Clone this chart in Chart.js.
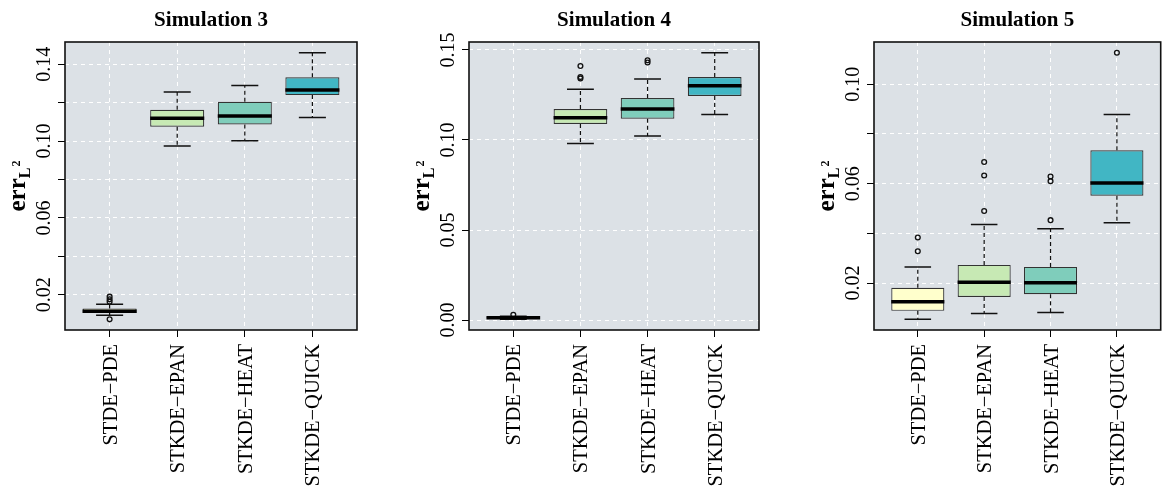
<!DOCTYPE html>
<html lang="en">
<head>
<meta charset="UTF-8">
<title>Simulation boxplots</title>
<style>
  html, body { margin: 0; padding: 0; background: #fff; overflow: hidden; }
  #wrap { position: relative; width: 1162px; height: 492px; overflow: hidden; }
  canvas { position: absolute; top: 0; }
</style>
</head>
<body>
<div id="wrap">
  <canvas id="sim3" width="387" height="492" style="left:0px"></canvas>
  <canvas id="sim4" width="387" height="492" style="left:387px"></canvas>
  <canvas id="sim5" width="392" height="492" style="left:774px"></canvas>
</div>
<script src="https://cdn.jsdelivr.net/npm/chart.js@4.4.1/dist/chart.umd.min.js"></script>
<script>
const categories = ['STDE\u2212PDE', 'STKDE\u2212EPAN', 'STKDE\u2212HEAT', 'STKDE\u2212QUICK'];
const boxColors = ['#ffffcc', '#c7e9b4', '#7fcdbb', '#41b6c4'];

// Simulation 3
const sim3Low    = [0.0093, 0.0974, 0.1002, 0.1123];
const sim3Q1     = [0.0105, 0.1074, 0.1086, 0.1239];
const sim3Median = [0.0114, 0.1119, 0.1130, 0.1266];
const sim3Q3     = [0.0129, 0.1163, 0.1204, 0.1332];
const sim3High   = [0.0151, 0.1255, 0.1289, 0.1460];
const sim3Outliers = [[0.0072, 0.0164, 0.0176, 0.0190], [], [], []];
const sim3Ticks = [0.02, 0.04, 0.06, 0.08, 0.10, 0.12, 0.14];
const sim3TickLabels = ['0.02', '0.06', '0.10', '0.14'];

// Simulation 4
const sim4Low    = [0.0005, 0.0980, 0.1022, 0.1142];
const sim4Q1     = [0.0010, 0.1089, 0.1118, 0.1244];
const sim4Median = [0.0013, 0.1124, 0.1172, 0.1301];
const sim4Q3     = [0.0016, 0.1172, 0.1233, 0.1349];
const sim4High   = [0.0022, 0.1282, 0.1339, 0.1485];
const sim4Outliers = [[0.0029], [0.1342, 0.1349, 0.1411], [0.1430, 0.1443], []];
const sim4Ticks = [0.00, 0.05, 0.10, 0.15];
const sim4TickLabels = ['0.00', '0.05', '0.10', '0.15'];

// Simulation 5
const sim5Low    = [0.0054, 0.0077, 0.0081, 0.0443];
const sim5Q1     = [0.0088, 0.0144, 0.0155, 0.0551];
const sim5Median = [0.0125, 0.0203, 0.0201, 0.0603];
const sim5Q3     = [0.0181, 0.0273, 0.0265, 0.0734];
const sim5High   = [0.0265, 0.0436, 0.0418, 0.0878];
const sim5Outliers = [[0.0328, 0.0383], [0.0490, 0.0633, 0.0687], [0.0453, 0.0610, 0.0629], [0.1127]];
const sim5Ticks = [0.02, 0.04, 0.06, 0.08, 0.10];
const sim5TickLabels = ['0.02', '0.06', '0.10'];

const SERIF = '"Liberation Serif", "Times New Roman", serif';

// draws background, whiskers, medians, frame and all the R-style text
const boxExtras = {
  id: 'boxExtras',
  beforeDraw(chart) {
    const a = chart.chartArea, ctx = chart.ctx;
    ctx.save();
    ctx.fillStyle = '#dce1e6';
    ctx.fillRect(a.left, a.top, a.right - a.left, a.bottom - a.top);
    ctx.restore();
  },
  afterDatasetsDraw(chart) {
    const b = chart.options.plugins.boxExtras;
    const ctx = chart.ctx, ys = chart.scales.y;
    const meta = chart.getDatasetMeta(0);
    ctx.save();
    meta.data.forEach((el, i) => {
      const x = el.x, w = el.width;
      const yLo = ys.getPixelForValue(b.low[i]);
      const yQ1 = ys.getPixelForValue(b.q1[i]);
      const yQ3 = ys.getPixelForValue(b.q3[i]);
      const yHi = ys.getPixelForValue(b.high[i]);
      const yMed = ys.getPixelForValue(b.median[i]);
      // dashed whiskers
      ctx.strokeStyle = '#111';
      ctx.lineWidth = 1.2;
      ctx.setLineDash([4, 3]);
      ctx.beginPath();
      ctx.moveTo(x, yQ3); ctx.lineTo(x, yHi);
      ctx.moveTo(x, yQ1); ctx.lineTo(x, yLo);
      ctx.stroke();
      // caps
      ctx.setLineDash([]);
      ctx.lineWidth = 1.5;
      ctx.beginPath();
      ctx.moveTo(x - w / 4, yHi); ctx.lineTo(x + w / 4, yHi);
      ctx.moveTo(x - w / 4, yLo); ctx.lineTo(x + w / 4, yLo);
      ctx.stroke();
      // median
      ctx.strokeStyle = '#000';
      ctx.lineWidth = 3.5;
      ctx.beginPath();
      ctx.moveTo(x - w / 2, yMed); ctx.lineTo(x + w / 2, yMed);
      ctx.stroke();
    });
    ctx.restore();
  },
  afterDraw(chart) {
    const b = chart.options.plugins.boxExtras;
    const a = chart.chartArea, ctx = chart.ctx;
    const xs = chart.scales.x, ys = chart.scales.y;
    ctx.save();
    // frame
    ctx.strokeStyle = '#111';
    ctx.lineWidth = 1.6;
    ctx.strokeRect(a.left, a.top, a.right - a.left, a.bottom - a.top);

    ctx.fillStyle = '#000';
    // title
    ctx.font = 'bold 21px ' + SERIF;
    ctx.textAlign = 'center';
    ctx.textBaseline = 'alphabetic';
    ctx.fillText(b.title, (a.left + a.right) / 2, 26);

    // y tick labels, parallel to the axis
    ctx.font = '20px ' + SERIF;
    b.tickLabels.forEach(t => {
      const y = ys.getPixelForValue(parseFloat(t));
      ctx.save();
      ctx.translate(a.left - 15, y);
      ctx.rotate(-Math.PI / 2);
      ctx.textAlign = 'center';
      ctx.fillText(t, 0, 0);
      ctx.restore();
    });

    // y title: err with subscript L and superscript 2
    ctx.save();
    const cy = (a.top + a.bottom) / 2;
    ctx.translate(a.left - 40, cy);
    ctx.rotate(-Math.PI / 2);
    ctx.textAlign = 'left';
    ctx.font = 'bold 25px ' + SERIF;
    const w1 = ctx.measureText('err').width;
    ctx.font = 'bold 16px ' + SERIF;
    const w2 = ctx.measureText('L').width;
    ctx.font = 'bold 12px ' + SERIF;
    const w3 = ctx.measureText('2').width;
    const start = -(w1 + w2 + w3 + 1) / 2;
    ctx.font = 'bold 25px ' + SERIF;
    ctx.fillText('err', start, 0);
    ctx.font = 'bold 16px ' + SERIF;
    ctx.fillText('L', start + w1, 5);
    ctx.font = 'bold 12px ' + SERIF;
    ctx.fillText('2', start + w1 + w2 + 1, -5);
    ctx.restore();

    // category labels, perpendicular to the axis
    ctx.font = '20.5px ' + SERIF;
    categories.forEach((c, i) => {
      const x = xs.getPixelForValue(i + 1);
      ctx.save();
      ctx.translate(x + 7, a.bottom + 14);
      ctx.rotate(-Math.PI / 2);
      ctx.textAlign = 'right';
      ctx.fillText(c, 0, 0);
      ctx.restore();
    });
    ctx.restore();
  }
};

function makePanel(id, title, low, q1, median, q3, high, outliers, ticks, tickLabels, yMin, yMax, padLeft, padRight) {
  const boxes = categories.map((c, i) => ({ x: i + 1, y: [q1[i], q3[i]] }));
  const points = [];
  outliers.forEach((list, i) => list.forEach(v => points.push({ x: i + 1, y: v })));

  return new Chart(document.getElementById(id), {
    type: 'bar',
    data: {
      datasets: [{
        type: 'bar',
        data: boxes,
        backgroundColor: boxColors,
        borderColor: '#333',
        borderWidth: 1.2,
        borderSkipped: false,
        barPercentage: 0.8,
        categoryPercentage: 1
      }, {
        type: 'scatter',
        data: points,
        pointRadius: 2.4,
        pointBorderWidth: 1.3,
        pointBorderColor: '#111',
        pointBackgroundColor: 'rgba(0,0,0,0)'
      }]
    },
    options: {
      responsive: false,
      animation: false,
      devicePixelRatio: 1,
      events: [],
      layout: { padding: { left: padLeft, right: padRight, top: 42, bottom: 162 } },
      plugins: {
        legend: { display: false },
        tooltip: { enabled: false },
        boxExtras: { title, low, q1, median, q3, high, tickLabels }
      },
      scales: {
        x: {
          type: 'linear',
          offset: false,
          min: 0.34,
          max: 4.66,
          afterBuildTicks: s => { s.ticks = [1, 2, 3, 4].map(v => ({ value: v })); },
          afterFit: s => { s.height = 0; },
          ticks: { display: false },
          grid: { offset: false, color: '#ffffff', lineWidth: 1, tickColor: '#000', tickLength: 7, tickWidth: 1, tickBorderDash: [] },
          border: { display: false, dash: [4, 4] }
        },
        y: {
          type: 'linear',
          min: yMin,
          max: yMax,
          afterBuildTicks: s => { s.ticks = ticks.map(v => ({ value: v })); },
          afterFit: s => { s.width = 0; },
          ticks: { display: false },
          grid: { color: '#ffffff', lineWidth: 1, tickColor: '#000', tickLength: 7, tickWidth: 1, tickBorderDash: [] },
          border: { display: false, dash: [4, 4] }
        }
      }
    },
    plugins: [boxExtras]
  });
}

makePanel('sim3', 'Simulation 3', sim3Low, sim3Q1, sim3Median, sim3Q3, sim3High, sim3Outliers,
  sim3Ticks, sim3TickLabels, 0.00165, 0.15155, 65, 30);
makePanel('sim4', 'Simulation 4', sim4Low, sim4Q1, sim4Median, sim4Q3, sim4High, sim4Outliers,
  sim4Ticks, sim4TickLabels, -0.0055, 0.1544, 82, 15);
makePanel('sim5', 'Simulation 5', sim5Low, sim5Q1, sim5Median, sim5Q3, sim5High, sim5Outliers,
  sim5Ticks, sim5TickLabels, 0.0011, 0.1170, 100, 2);
</script>
</body>
</html>
